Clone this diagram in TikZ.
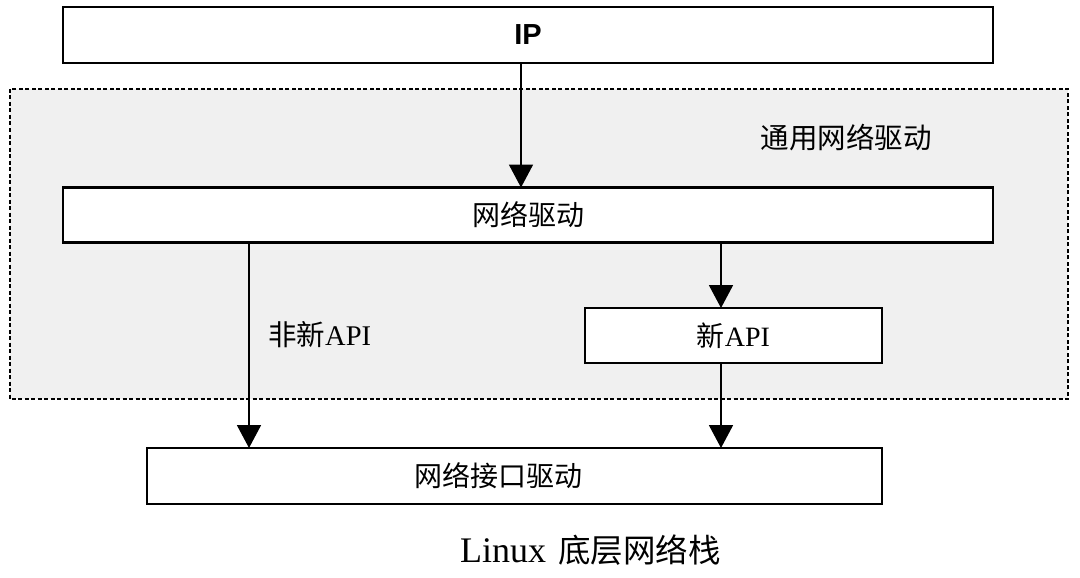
\documentclass[tikz,border=0pt]{standalone}
\usepackage{fontspec}
\setmainfont{Liberation Serif}
\newfontfamily\cjk{Noto Sans CJK SC}
\newfontfamily\ipfont{Liberation Sans}
\usetikzlibrary{arrows.meta}
\begin{document}
\begin{tikzpicture}[x=1pt,y=-1pt,
  box/.style={draw=black,line width=2.2pt,fill=white,inner sep=0pt,font=\fontsize{28}{32}\selectfont},
  conn/.style={line width=1.9pt,-{Triangle[length=23pt,width=24pt]}},
  lbl/.style={inner sep=0pt,font=\fontsize{28.5}{32}\selectfont}]
\useasboundingbox (0,0) rectangle (1080,578);
% dotted group
\draw[fill=black!6,line width=1.8pt,dash pattern=on 4pt off 2.5pt] (10,89) rectangle (1068,399);
\node[lbl] (grp) at (846,138) {\cjk 通用网络驱动};
% boxes
\node[box,minimum width=930pt,minimum height=56pt] (ip) at (528,35) {\ipfont\bfseries\fontsize{29}{32}\selectfont IP};
\node[box,minimum width=930pt,minimum height=55pt] (nd) at (528,215) {\cjk 网络驱动};
\node[box,minimum width=297pt,minimum height=55pt] (napi) at (733.5,335.5) {{\cjk 新}API};
\node[box,minimum width=735pt,minimum height=56pt] (nif) at (514.5,476) {{\cjk 网络接口驱动}\hspace*{32pt}};
% connectors
\coordinate (ipb) at (521,63);
\coordinate (ndt) at (521,187.5);
\draw[conn] (ipb) -- (ndt);
\coordinate (nda) at (249,242.5);
\coordinate (nifa) at (249,448);
\draw[conn] (nda) -- (nifa);
\coordinate (ndb) at (721,242.5);
\coordinate (napit) at (721,308);
\draw[conn] (ndb) -- (napit);
\coordinate (napib) at (721,363);
\coordinate (nifb) at (721,448);
\draw[conn] (napib) -- (nifb);
\node[lbl,anchor=west] (old) at (268,335) {{\cjk 非新}API};
% caption
\node[inner sep=0pt,anchor=west,font=\fontsize{36}{40}\selectfont] (cap) at (460,550) {Linux\hspace{12pt}{\cjk\fontsize{32.5}{36}\selectfont 底层网络栈}};
\end{tikzpicture}
\end{document}
